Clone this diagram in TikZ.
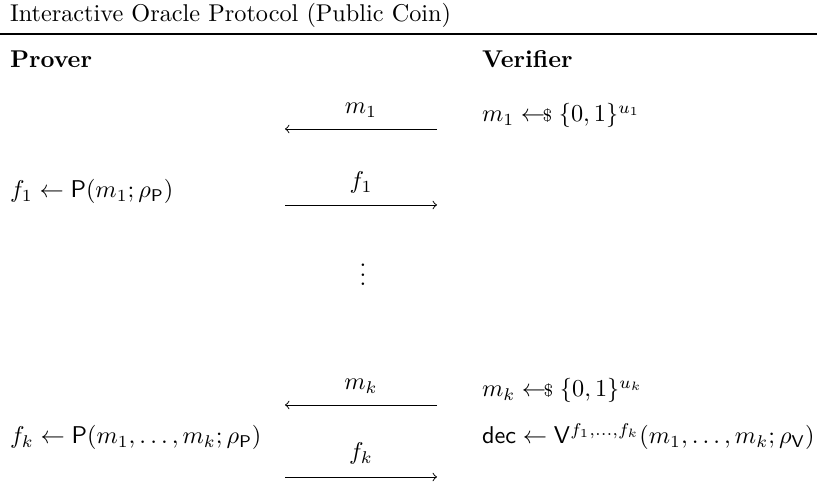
\documentclass[tikz,border=0pt]{standalone}
\usepackage{amsmath}
\newcommand{\smpl}{\mathrel{\leftarrow\mkern-7mu{\scriptstyle\$}}}
\begin{document}
\begin{tikzpicture}[x=0.412pt,y=-0.412pt,
  txt/.style={anchor=base west,inner sep=0pt,outer sep=0pt},
  lbl/.style={anchor=base,inner sep=0pt,outer sep=0pt},
  msg/.style={line width=0.4pt,->}]
\useasboundingbox (0,0) rectangle (817,485);
% title and rule
\node[txt] (title) at (10,22) {Interactive Oracle Protocol (Public Coin)};
\coordinate (ruleL) at (0,34);
\coordinate (ruleR) at (817,34);
\draw[line width=0.6pt] (ruleL) -- (ruleR);
% headers
\node[txt] (prover) at (10,68) {\textbf{Prover}};
\node[txt] (verifier) at (482,68) {\textbf{Verifier}};
% row 1: m1
\coordinate (m1R) at (437,129);
\coordinate (m1L) at (285,129);
\draw[msg] (m1R) -- (m1L);
\node[lbl] (m1lbl) at (361,114) {$m_1$};
\node[txt] (v1) at (482,122) {$m_1 \smpl \{0,1\}^{u_1}$};
% row 2: f1
\coordinate (f1L) at (285,205);
\coordinate (f1R) at (437,205);
\draw[msg] (f1L) -- (f1R);
\node[lbl] (f1lbl) at (361,189) {$f_1$};
\node[txt] (p1) at (10,198) {$f_1 \gets \mathsf{P}(m_1;\rho_{\mathsf{P}})$};
% dots
\node[anchor=base,inner sep=0pt] (dots) at (363,286) {$\vdots$};
% row 3: mk
\coordinate (mkR) at (437,405);
\coordinate (mkL) at (285,405);
\draw[msg] (mkR) -- (mkL);
\node[lbl] (mklbl) at (361,390) {$m_k$};
\node[txt] (vk) at (482,397) {$m_k \smpl \{0,1\}^{u_k}$};
% row 4: fk
\coordinate (fkL) at (285,477);
\coordinate (fkR) at (437,477);
\draw[msg] (fkL) -- (fkR);
\node[lbl] (fklbl) at (361,460) {$f_k$};
\node[txt] (pk) at (10,444) {$f_k \gets \mathsf{P}(m_1,\dots,m_k;\rho_{\mathsf{P}})$};
\node[txt] (dec) at (482,444) {$\mathsf{dec} \gets \mathsf{V}^{f_1,\dots,f_k}(m_1,\dots,m_k;\rho_{\mathsf{V}})$};
\end{tikzpicture}
\end{document}
